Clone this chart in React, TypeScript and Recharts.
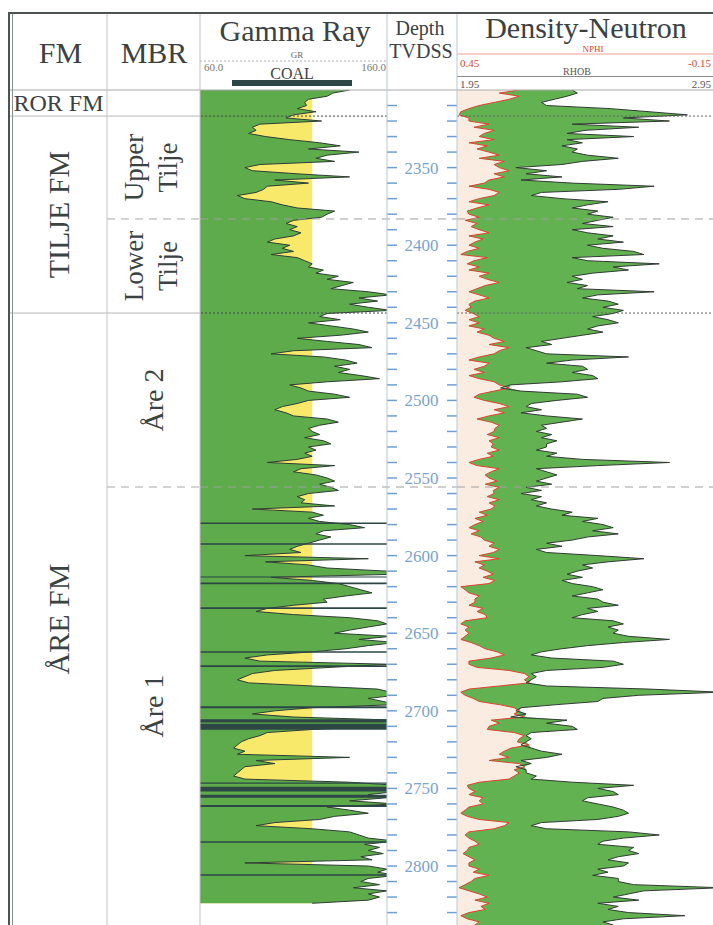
import React from 'react';
import { ComposedChart, Area, Line, XAxis, YAxis, ReferenceArea, ReferenceLine } from 'recharts';

// ---------- data ----------
const DEPTH_TOP = 2300;
const DEPTH_BOTTOM = 2838;
const SAMPLE_STEP = 2;

const DEPTH_TICKS = [
  2310, 2320, 2330, 2340, 2350, 2360, 2370, 2380, 2390, 2400,
  2410, 2420, 2430, 2440, 2450, 2460, 2470, 2480, 2490, 2500,
  2510, 2520, 2530, 2540, 2550, 2560, 2570, 2580, 2590, 2600,
  2610, 2620, 2630, 2640, 2650, 2660, 2670, 2680, 2690, 2700,
  2710, 2720, 2730, 2740, 2750, 2760, 2770, 2780, 2790, 2800,
  2810, 2820, 2830,
];
const DEPTH_LABELS = [2350, 2400, 2450, 2500, 2550, 2600, 2650, 2700, 2750, 2800];

const GR_MIN = 60;
const GR_MAX = 160;
const GR_CUTOFF = 120;
const RHOB_MIN = 1.95;
const RHOB_MAX = 2.95;
const NPHI_LEFT = 0.45;
const NPHI_RIGHT = -0.15;

// Gamma ray (API), 2300 m .. 2824 m every 2 m
const GR = [
  140, 131, 128, 118, 116, 117, 112, 122, 110, 106,
  125, 92, 88, 90, 86, 95, 108, 124, 135, 118,
  145, 128, 122, 132, 92, 84, 88, 112, 140, 100,
  118, 96, 94, 90, 80, 84, 98, 104, 112, 132,
  128, 125, 110, 106, 112, 108, 114, 110, 100, 96,
  108, 104, 110, 98, 112, 116, 120, 118, 126, 122,
  134, 128, 142, 136, 130, 150, 162, 145, 155, 140,
  150, 162, 128, 124, 135, 118, 130, 142, 150, 135,
  112, 128, 145, 152, 110, 98, 126, 138, 144, 132,
  140, 134, 146, 156, 128, 108, 114, 118, 132, 140,
  118, 112, 104, 100, 106, 110, 128, 134, 124, 118,
  120, 124, 116, 126, 130, 118, 122, 116, 120, 112,
  96, 132, 114, 110, 122, 128, 132, 124, 130, 134,
  118, 112, 116, 114, 132, 88, 120, 126, 118, 124,
  140, 148, 126, 122, 130, 124, 118, 112, 108, 114,
  84, 150, 95, 118, 128, 160, 165, 98, 120, 134,
  140, 146, 152, 138, 126, 128, 110, 96, 90, 110,
  140, 155, 160, 150, 140, 132, 162, 145, 165, 150,
  138, 120, 96, 84, 92, 162, 130, 100, 88, 84,
  80, 86, 120, 155, 162, 165, 150, 158, 165, 120,
  100, 88, 110, 165, 165, 160, 120, 96, 92, 86,
  82, 80, 78, 84, 80, 140, 90, 100, 84, 82,
  80, 78, 84, 140, 165, 160, 165, 150, 160, 140,
  165, 128, 140, 150, 132, 124, 100, 90, 120, 140,
  145, 150, 165, 148, 156, 150, 158, 146, 152, 84,
  150, 160, 155, 165, 150, 146, 156, 142, 160, 150,
  156, 150, 120,
];

// Bulk density (g/cc), 2300 m .. 2838 m every 2 m
const RHOB = [
  2.40, 2.42, 2.38, 2.33, 2.28, 2.30, 2.55, 2.70, 2.85, 2.60,
  2.78, 2.40, 2.66, 2.45, 2.38, 2.64, 2.38, 2.44, 2.36, 2.42,
  2.40, 2.46, 2.58, 2.44, 2.36, 2.18, 2.30, 2.22, 2.36, 2.20,
  2.40, 2.72, 2.58, 2.28, 2.24, 2.36, 2.54, 2.46, 2.40, 2.50,
  2.46, 2.56, 2.50, 2.44, 2.56, 2.40, 2.46, 2.56, 2.50, 2.60,
  2.46, 2.52, 2.64, 2.68, 2.40, 2.46, 2.74, 2.56, 2.62, 2.48,
  2.40, 2.44, 2.38, 2.46, 2.42, 2.72, 2.50, 2.44, 2.54, 2.58,
  2.52, 2.60, 2.56, 2.48, 2.54, 2.58, 2.50, 2.46, 2.52, 2.44,
  2.36, 2.28, 2.32, 2.22, 2.26, 2.30, 2.62, 2.40, 2.30, 2.44,
  2.46, 2.40, 2.48, 2.50, 2.36, 2.16, 2.12, 2.20, 2.42, 2.46,
  2.34, 2.24, 2.22, 2.28, 2.20, 2.30, 2.44, 2.36, 2.28, 2.30,
  2.26, 2.32, 2.28, 2.34, 2.30, 2.30, 2.26, 2.34, 2.30, 2.44,
  2.78, 2.50, 2.26, 2.30, 2.34, 2.30, 2.26, 2.32, 2.22, 2.28,
  2.20, 2.28, 2.24, 2.30, 2.26, 2.32, 2.40, 2.36, 2.50, 2.44,
  2.52, 2.56, 2.48, 2.58, 2.46, 2.40, 2.30, 2.36, 2.26, 2.30,
  2.50, 2.68, 2.54, 2.44, 2.48, 2.42, 2.38, 2.44, 2.36, 2.40,
  2.48, 2.52, 2.46, 2.40, 2.50, 2.52, 2.58, 2.46, 2.50, 2.44,
  2.40, 2.56, 2.60, 2.54, 2.58, 2.56, 2.62, 2.78, 2.60, 2.46,
  2.36, 2.28, 2.24, 2.32, 2.56, 2.60, 2.52, 2.30, 2.24, 2.26,
  2.24, 2.22, 2.30, 2.70, 2.98, 2.66, 2.52, 2.50, 2.34, 2.20,
  2.18, 2.22, 2.16, 2.38, 2.30, 2.40, 2.42, 2.24, 2.22, 2.24,
  2.22, 2.20, 2.24, 2.28, 2.36, 2.30, 2.20, 2.24, 2.18, 2.22,
  2.22, 2.26, 2.24, 2.40, 2.64, 2.50, 2.56, 2.58, 2.46, 2.44,
  2.50, 2.56, 2.60, 2.62, 2.58, 2.50, 2.28, 2.24, 2.30, 2.62,
  2.74, 2.60, 2.52, 2.50, 2.64, 2.62, 2.66, 2.58, 2.54, 2.62,
  2.60, 2.50, 2.54, 2.48, 2.58, 2.58, 2.64, 2.98, 2.68, 2.62,
  2.56, 2.66, 2.50, 2.58, 2.54, 2.62, 2.84, 2.60, 2.52, 2.56,
];

// Neutron porosity (v/v), 2300 m .. 2838 m every 2 m
const NPHI = [
  0.304, 0.351, 0.304, 0.328, 0.363, 0.398, 0.422, 0.441, 0.445, 0.422,
  0.422, 0.375, 0.410, 0.363, 0.386, 0.398, 0.363, 0.422, 0.379, 0.403,
  0.375, 0.351, 0.398, 0.339, 0.363, 0.351, 0.328, 0.363, 0.339, 0.375,
  0.386, 0.422, 0.375, 0.351, 0.363, 0.398, 0.422, 0.375, 0.403, 0.426,
  0.422, 0.398, 0.431, 0.403, 0.417, 0.398, 0.375, 0.422, 0.389, 0.408,
  0.422, 0.398, 0.426, 0.441, 0.379, 0.410, 0.426, 0.398, 0.422, 0.375,
  0.398, 0.379, 0.351, 0.384, 0.403, 0.422, 0.398, 0.375, 0.408, 0.422,
  0.417, 0.431, 0.412, 0.398, 0.422, 0.398, 0.422, 0.386, 0.403, 0.375,
  0.363, 0.339, 0.375, 0.328, 0.351, 0.363, 0.398, 0.422, 0.375, 0.386,
  0.410, 0.386, 0.422, 0.398, 0.363, 0.351, 0.328, 0.363, 0.398, 0.410,
  0.386, 0.351, 0.328, 0.363, 0.339, 0.375, 0.403, 0.370, 0.351, 0.361,
  0.363, 0.379, 0.351, 0.375, 0.365, 0.370, 0.351, 0.379, 0.365, 0.398,
  0.422, 0.403, 0.351, 0.370, 0.384, 0.375, 0.356, 0.384, 0.351, 0.365,
  0.363, 0.379, 0.351, 0.375, 0.361, 0.370, 0.398, 0.379, 0.408, 0.389,
  0.408, 0.422, 0.398, 0.417, 0.394, 0.386, 0.363, 0.375, 0.351, 0.365,
  0.398, 0.351, 0.408, 0.386, 0.398, 0.379, 0.365, 0.389, 0.361, 0.375,
  0.441, 0.431, 0.422, 0.398, 0.408, 0.408, 0.422, 0.389, 0.403, 0.384,
  0.379, 0.431, 0.441, 0.422, 0.431, 0.422, 0.431, 0.441, 0.417, 0.398,
  0.384, 0.356, 0.339, 0.370, 0.422, 0.422, 0.403, 0.328, 0.292, 0.281,
  0.292, 0.281, 0.351, 0.422, 0.441, 0.431, 0.412, 0.398, 0.351, 0.316,
  0.304, 0.316, 0.292, 0.370, 0.351, 0.375, 0.379, 0.316, 0.292, 0.304,
  0.309, 0.281, 0.323, 0.339, 0.351, 0.328, 0.375, 0.304, 0.292, 0.316,
  0.304, 0.316, 0.328, 0.398, 0.426, 0.422, 0.408, 0.422, 0.389, 0.398,
  0.389, 0.422, 0.431, 0.441, 0.426, 0.398, 0.328, 0.339, 0.363, 0.422,
  0.431, 0.422, 0.408, 0.398, 0.422, 0.426, 0.436, 0.422, 0.408, 0.422,
  0.422, 0.398, 0.412, 0.375, 0.408, 0.417, 0.431, 0.445, 0.422, 0.398,
  0.379, 0.408, 0.375, 0.394, 0.384, 0.422, 0.441, 0.426, 0.398, 0.408,
];

// coal beds [top, base] in m TVDSS
const COAL_BEDS = [
  [2578.6, 2579.6], [2592.0, 2593.0], [2613.5, 2614.1], [2617.3, 2618.4],
  [2633.3, 2634.4], [2661.6, 2662.6], [2670.6, 2671.8], [2697.0, 2698.3],
  [2705.5, 2707.6], [2708.4, 2712.2], [2746.2, 2747.0], [2749.0, 2752.0],
  [2754.0, 2756.0], [2760.7, 2762.0], [2784.0, 2785.0], [2805.3, 2806.3],
];

const FORMATIONS = [
  { name: 'ROR FM', top: 2300, base: 2316.8 },
  { name: 'TILJE FM', top: 2316.8, base: 2443.7 },
  { name: 'ÅRE FM', top: 2443.7, base: 2838 },
];
const MEMBERS = [
  { lines: ['Upper', 'Tilje'], top: 2316.8, base: 2383.1 },
  { lines: ['Lower', 'Tilje'], top: 2383.1, base: 2443.7 },
  { lines: ['Åre 2'], top: 2443.7, base: 2555.8 },
  { lines: ['Åre 1'], top: 2555.8, base: 2838 },
];

// ---------- tables ----------
const grRows = GR.map((gr, i) => ({ depth: DEPTH_TOP + i * SAMPLE_STEP, gr, cutoff: GR_CUTOFF }));
const dnRows = RHOB.map((rhob, i) => {
  const nphi = NPHI[i];
  const nphiOnRhob = RHOB_MIN + ((NPHI_LEFT - nphi) / (NPHI_LEFT - NPHI_RIGHT)) * (RHOB_MAX - RHOB_MIN);
  return { depth: DEPTH_TOP + i * SAMPLE_STEP, rhob, nphiOnRhob, sep: [nphiOnRhob, Math.max(nphiOnRhob, rhob)] };
});

// ---------- styles ----------
const FONT = '"Liberation Serif", "DejaVu Serif", serif';
const TXT = '#3b4242';
const GREEN = '#5dab4a';
const DN_GREEN = '#62b251';
const YELLOW = '#f9e96a';
const CURVE = '#2f3d35';
const COAL = '#2d4747';
const RED = '#d8442c';
const TICK_BLUE = '#6f9fd3';
const LABEL_BLUE = '#7aa3cf';
const SEP = '#c2c2c2';

const PLOT_H = 835;
const GR_W = 187;
const DEPTH_W = 70;
const DN_W = 256;

const formationTops = FORMATIONS.slice(1).map((f) => f.top);
const memberTops = [MEMBERS[1].top, MEMBERS[3].top];

function DepthTick(props: any) {
  const { y, payload } = props;
  const v = payload.value;
  return (
    <g>
      <line x1={GR_W} x2={GR_W + 10} y1={y} y2={y} stroke={TICK_BLUE} strokeWidth={1.5} />
      <line x1={GR_W + DEPTH_W - 10} x2={GR_W + DEPTH_W} y1={y} y2={y} stroke={TICK_BLUE} strokeWidth={1.5} />
      {DEPTH_LABELS.includes(v) && (
        <text x={GR_W + 34.5} y={y + 6} textAnchor="middle" fontSize={17} fill={LABEL_BLUE} fontFamily={FONT}>
          {v}
        </text>
      )}
    </g>
  );
}

const fmLabel = (name: string) => (p: any) => {
  const { x, y, width, height } = p.viewBox;
  const cx = x + width / 2;
  const cy = y + height / 2;
  if (name === 'ROR FM') {
    return (
      <text x={cx} y={cy + 8} textAnchor="middle" fontSize={24} fill={TXT} fontFamily={FONT}>
        {name}
      </text>
    );
  }
  const bx = x + 59;
  return (
    <text x={bx} y={cy} transform={`rotate(-90 ${bx} ${cy})`} textAnchor="middle" fontSize={30} fill={TXT} fontFamily={FONT}>
      {name}
    </text>
  );
};

const mbrLabel = (lines: string[]) => (p: any) => {
  const { x, y, height } = p.viewBox;
  const cy = y + height / 2;
  const baselines = lines.length === 2 ? [36, 70] : [56];
  return (
    <g>
      {lines.map((t, i) => {
        const bx = x + baselines[i];
        return (
          <text key={t + i} x={bx} y={cy} transform={`rotate(-90 ${bx} ${cy})`} textAnchor="middle" fontSize={lines.length === 2 ? 27 : 28} fill={TXT} fontFamily={FONT}>
            {t}
          </text>
        );
      })}
    </g>
  );
};

const noAnim = { isAnimationActive: false, dot: false, activeDot: false } as any;

export default function App() {
  return (
    <div style={{ position: 'absolute', left: 0, top: 0, width: 713, height: 925, background: '#fff', overflow: 'hidden', fontFamily: FONT }}>
      {/* FM / MBR columns */}
      <div style={{ position: 'absolute', left: 10, top: 90 }}>
        <ComposedChart layout="vertical" width={190} height={PLOT_H} data={grRows} margin={{ top: 0, right: 0, bottom: 0, left: 0 }}>
          <XAxis type="number" domain={[0, 190]} hide />
          <YAxis type="number" dataKey="depth" domain={[DEPTH_TOP, DEPTH_BOTTOM]} hide allowDataOverflow />
          <Line dataKey="cutoff" stroke="none" {...noAnim} />
          {FORMATIONS.map((f) => (
            <ReferenceArea key={f.name} x1={0} x2={97} y1={f.top} y2={f.base} fill="none" stroke="none" ifOverflow="visible" label={fmLabel(f.name)} />
          ))}
          {MEMBERS.map((m) => (
            <ReferenceArea key={m.lines.join()} x1={97} x2={190} y1={m.top} y2={m.base} fill="none" stroke="none" ifOverflow="visible" label={mbrLabel(m.lines)} />
          ))}
          {formationTops.map((d) => (
            <ReferenceLine key={'f' + d} y={d} stroke="#b8b8b8" strokeWidth={1} />
          ))}
          {memberTops.map((d) => (
            <ReferenceLine key={'m' + d} segment={[{ x: 97, y: d }, { x: 190, y: d }]} stroke="#a8a8a8" strokeDasharray="8 6" strokeWidth={1} />
          ))}
        </ComposedChart>
      </div>

      {/* Gamma ray track + depth column */}
      <div style={{ position: 'absolute', left: 200, top: 90 }}>
        <ComposedChart layout="vertical" width={GR_W + DEPTH_W} height={PLOT_H} data={grRows} margin={{ top: 0, right: 0, bottom: 0, left: 0 }}>
          <XAxis type="number" domain={[GR_MIN, GR_MAX]} hide allowDataOverflow />
          <YAxis
            type="number"
            dataKey="depth"
            domain={[DEPTH_TOP, DEPTH_BOTTOM]}
            allowDataOverflow
            orientation="right"
            width={DEPTH_W}
            ticks={DEPTH_TICKS}
            interval={0}
            tick={(p: any) => <DepthTick {...p} />}
            tickLine={false}
            axisLine={false}
          />
          <Area dataKey="cutoff" baseValue={GR_MIN} fill={YELLOW} fillOpacity={1} stroke="none" {...noAnim} />
          <Area dataKey="gr" baseValue={GR_MIN} fill={GREEN} fillOpacity={1} stroke={CURVE} strokeWidth={1} {...noAnim} />
          {COAL_BEDS.map(([t, b]) => (
            <ReferenceArea key={'c' + t} x1={GR_MIN} x2={GR_MAX} y1={t} y2={b} fill={COAL} fillOpacity={1} stroke="none" ifOverflow="hidden" />
          ))}
          {formationTops.map((d) => (
            <ReferenceLine key={'f' + d} y={d} stroke="#4a4a4a" strokeDasharray="2 2" strokeWidth={1} />
          ))}
          {memberTops.map((d) => (
            <ReferenceLine
              key={'m' + d}
              segment={[{ x: GR_MIN, y: d }, { x: GR_MAX + ((GR_MAX - GR_MIN) * DEPTH_W) / GR_W, y: d }]}
              ifOverflow="visible"
              stroke="#a0a0a0"
              strokeDasharray="8 6"
              strokeWidth={1}
            />
          ))}
        </ComposedChart>
      </div>

      {/* Density-neutron track */}
      <div style={{ position: 'absolute', left: 457, top: 90 }}>
        <ComposedChart layout="vertical" width={DN_W} height={PLOT_H} data={dnRows} margin={{ top: 0, right: 0, bottom: 0, left: 0 }}>
          <XAxis type="number" domain={[RHOB_MIN, RHOB_MAX]} hide allowDataOverflow />
          <YAxis type="number" dataKey="depth" domain={[DEPTH_TOP, DEPTH_BOTTOM]} hide allowDataOverflow />
          <Area dataKey="nphiOnRhob" baseValue={RHOB_MIN} fill="#f3bfa0" fillOpacity={0.3} stroke="none" {...noAnim} />
          <Area dataKey="sep" fill={DN_GREEN} fillOpacity={1} stroke="none" {...noAnim} />
          <Line dataKey="nphiOnRhob" stroke={RED} strokeWidth={1} {...noAnim} />
          <Line dataKey="rhob" stroke="#333a36" strokeWidth={1} {...noAnim} />
          {formationTops.map((d) => (
            <ReferenceLine key={'f' + d} y={d} stroke="#666" strokeDasharray="2 2" strokeWidth={1} />
          ))}
          {memberTops.map((d) => (
            <ReferenceLine key={'m' + d} y={d} stroke="#a0a0a0" strokeDasharray="8 6" strokeWidth={1} />
          ))}
        </ComposedChart>
      </div>

      {/* header and frame */}
      <svg width={713} height={925} style={{ position: 'absolute', left: 0, top: 0, pointerEvents: 'none' }}>
        <g fontFamily={FONT} fill={TXT}>
          <text x={60.5} y={63} fontSize={30} textAnchor="middle">FM</text>
          <text x={154} y={63} fontSize={30} textAnchor="middle">MBR</text>
          <text x={295} y={41} fontSize={30} textAnchor="middle">Gamma Ray</text>
          <text x={297} y={57.5} fontSize={9} textAnchor="middle" fill="#666">GR</text>
          <text x={204} y={71} fontSize={11} fill="#777">60.0</text>
          <text x={386} y={71} fontSize={11} textAnchor="end" fill="#777">160.0</text>
          <text x={292} y={79} fontSize={16} textAnchor="middle">COAL</text>
          <text x={420} y={35} fontSize={20} textAnchor="middle">Depth</text>
          <text x={421} y={58} fontSize={20} textAnchor="middle">TVDSS</text>
          <text x={586} y={38} fontSize={30} textAnchor="middle">Density-Neutron</text>
          <text x={593} y={52} fontSize={9} textAnchor="middle" fill={RED}>NPHI</text>
          <text x={460} y={67} fontSize={11} fill={RED}>0.45</text>
          <text x={711} y={67} fontSize={11} textAnchor="end" fill={RED}>-0.15</text>
          <text x={577} y={75} fontSize={10} textAnchor="middle" fill="#555">RHOB</text>
          <text x={460} y={88} fontSize={11} fill="#555">1.95</text>
          <text x={711} y={88} fontSize={11} textAnchor="end" fill="#555">2.95</text>
        </g>
        <rect x={232} y={80} width={120} height={6} fill={COAL} />
        <line x1={200} y1={61} x2={387} y2={61} stroke="#b0b0b0" strokeDasharray="2 2" />
        <line x1={457} y1={54} x2={713} y2={54} stroke="#eaa090" />
        <line x1={457} y1={76.5} x2={713} y2={76.5} stroke="#8a8a8a" />
        <line x1={10} y1={90} x2={713} y2={90} stroke="#a9a9a9" />
        <line x1={107} y1={13} x2={107} y2={925} stroke={SEP} />
        <line x1={200} y1={13} x2={200} y2={925} stroke={SEP} />
        <line x1={387} y1={13} x2={387} y2={925} stroke="#b9c6d4" />
        <line x1={457} y1={13} x2={457} y2={925} stroke="#b9c6d4" />
        <line x1={8} y1={13} x2={713} y2={13} stroke="#4d5353" strokeWidth={2} />
        <line x1={9} y1={12} x2={9} y2={925} stroke="#4d5353" strokeWidth={2} />
        <line x1={12.5} y1={14} x2={12.5} y2={925} stroke="#8a9090" strokeWidth={1} />
      </svg>
    </div>
  );
}
